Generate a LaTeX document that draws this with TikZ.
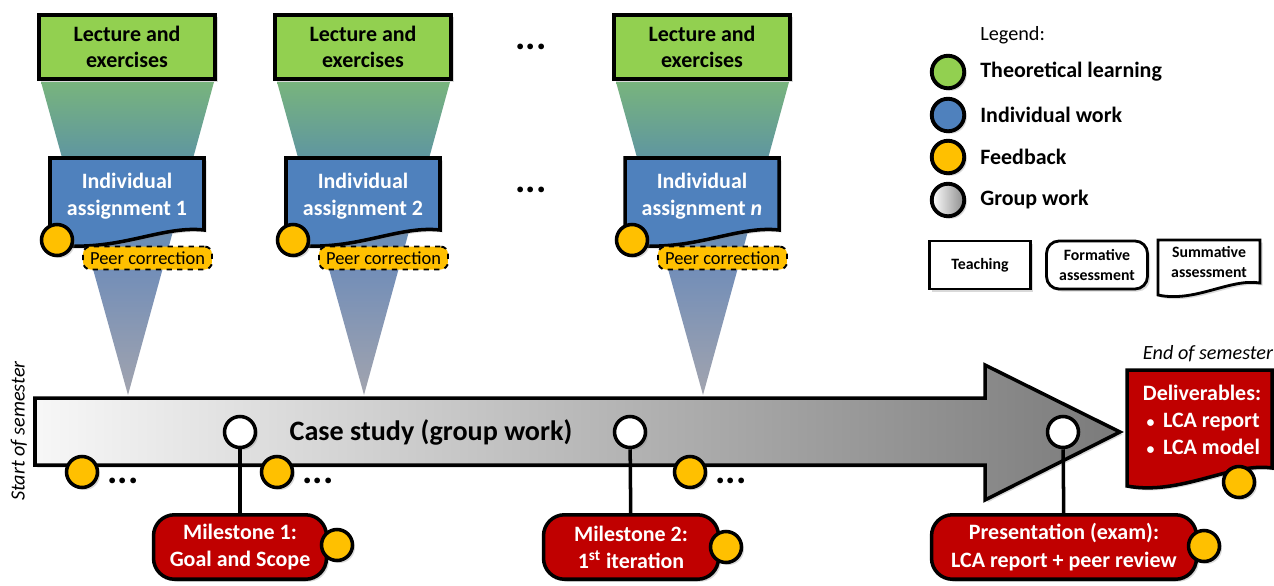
\documentclass[tikz,border=0pt]{standalone}
\usepackage{fontspec}
\setmainfont{Carlito}
\usepackage{tikz}
\usetikzlibrary{shadows}
\definecolor{theory}{RGB}{146,208,80}
\definecolor{indiv}{RGB}{79,129,189}
\definecolor{feed}{RGB}{255,192,0}
\definecolor{deliv}{RGB}{192,0,0}
\definecolor{funtop}{RGB}{120,180,125}
\definecolor{funmid}{RGB}{95,150,160}
\definecolor{funblue}{RGB}{110,140,185}
\definecolor{funbot}{RGB}{162,164,174}
\pgfdeclareverticalshading{funnel}{100bp}{color(0bp)=(funbot); color(25bp)=(funbot); color(47bp)=(funblue); color(63bp)=(funmid); color(75bp)=(funtop); color(100bp)=(funtop)}
\tikzstyle{shad}=[drop shadow={opacity=0.3,shadow xshift=0.5mm,shadow yshift=-0.5mm}]
\tikzstyle{lecture}=[rectangle,draw,line width=2pt,fill=theory,minimum width=3.53cm,minimum height=1.29cm,align=center,font=\bfseries\fontsize{12.5}{15}\selectfont,shad]
\tikzstyle{doc}=[draw,line width=2pt,shad]
\tikzstyle{doctext}=[align=center,text=white,font=\bfseries\fontsize{12.5}{15.5}\selectfont]
\tikzstyle{fbdot}=[circle,draw,line width=2pt,fill=feed,minimum size=0.62cm,inner sep=0pt,shad]
\tikzstyle{groupdot}=[circle,draw,line width=2pt,fill=white,minimum size=0.62cm,inner sep=0pt,shad]
\tikzstyle{peer}=[rectangle,rounded corners=0.15cm,draw,dashed,line width=1.1pt,fill=feed,minimum width=2.58cm,minimum height=0.46cm,inner sep=0pt,font=\fontsize{10.5}{12}\selectfont]
\tikzstyle{milestone}=[rectangle,rounded corners=0.42cm,draw,line width=2pt,fill=deliv,minimum height=1.29cm,align=center,text=white,font=\bfseries\fontsize{12.5}{15.5}\selectfont,shad]
\tikzstyle{link}=[draw,line width=2pt]
\tikzstyle{dots}=[font=\bfseries\fontsize{22}{22}\selectfont,inner sep=0pt]
\tikzstyle{legdot}=[circle,draw,line width=2.2pt,minimum size=0.65cm,inner sep=0pt,shad]
\tikzstyle{legtext}=[anchor=west,font=\bfseries\fontsize{12.5}{15}\selectfont,inner sep=0pt]
\tikzstyle{legbox}=[rectangle,draw,line width=1.6pt,fill=white,minimum width=2.02cm,minimum height=0.96cm,align=center,font=\bfseries\fontsize{9}{11}\selectfont,shad]
\tikzstyle{semester}=[font=\itshape\fontsize{11.5}{13}\selectfont,inner sep=0pt]

\begin{document}
\begin{tikzpicture}[x=0.02cm,y=-0.02cm]
    \useasboundingbox (0,0) rectangle (1274,585);

    % First the lecture columns, funnel under everything
    \foreach \dx/\num/\lab in {0/1/1, 236/2/2, 575/3/\textit{n}} {
        \shade[shading=funnel] (41+\dx,82) -- (214+\dx,82) -- (128+\dx,395) -- cycle;
        \node[lecture] (lec\num) at (127+\dx,47) {Lecture and\\exercises};
        \filldraw[doc,fill=indiv] (50+\dx,158) -- (204+\dx,158) -- (204+\dx,230) .. controls (160+\dx,225) and (115+\dx,254) .. (50+\dx,244) -- cycle;
        \node[doctext] (ia\num) at (127+\dx,196) {Individual\\assignment \lab};
        \node[fbdot] (fa\num) at (57+\dx,240) {};
        \node[peer] (peer\num) at (147.5+\dx,258) {Peer correction};
    }
    \node[dots] (dl) at (531,47) {...};
    \node[dots] (da) at (531,190) {...};

    % The case study arrow
    \shade[shad,draw,line width=2pt,left color=black!3,right color=black!52] (35,398) -- (985,398) -- (985,365) -- (1120,432) -- (985,500) -- (985,465) -- (35,465) -- cycle;
    \node[font=\bfseries\fontsize{16}{18}\selectfont] (case) at (431,432) {Case study (group work)};
    \node[semester,rotate=90] (start) at (19,431) {Start of semester};

    % Feedback along the case study
    \foreach \pos/\name in {{(82,472)/c1}, {(277,472)/c2}, {(690,472)/c3}}
        \node[fbdot] (\name) at \pos {};
    \foreach \pos/\name in {{(123,481)/e1}, {(318,481)/e2}, {(731,481)/e3}}
        \node[dots] (\name) at \pos {...};

    % Milestones
    \foreach \pos/\name in {{(240,432)/g1}, {(630,432)/g2}, {(1063,432)/g3}}
        \node[groupdot] (\name) at \pos {};
    \node[milestone,minimum width=3.46cm] (ms1) at (240,547) {Milestone 1:\\Goal and Scope};
    \node[milestone,minimum width=3.5cm] (ms2) at (631,547) {Milestone 2:\\1\textsuperscript{st} iteration};
    \node[milestone,minimum width=5.3cm] (ms3) at (1064,547) {Presentation (exam):\\LCA report + peer review};
    \foreach \source/\dest in {g1/ms1, g2/ms2, g3/ms3}
        \path[link] (\source) -- (\dest);
    \foreach \pos/\name in {{(337,545)/m1}, {(726,547)/m2}, {(1204,546)/m3}}
        \node[fbdot] (\name) at \pos {};

    % Deliverables at the end
    \node[semester] (end) at (1208,354) {End of semester};
    \filldraw[doc,fill=deliv] (1127,370) -- (1272,370) -- (1272,468) .. controls (1232,462) and (1180,496) .. (1127,486) -- cycle;
    \node[doctext,align=left] (deliv) at (1202,420) {Deliverables:\\\,{\fontsize{9}{9}\selectfont\textbullet}\ \,LCA report\\\,{\fontsize{9}{9}\selectfont\textbullet}\ \,LCA model};
    \node[fbdot] (fd) at (1239,482) {};

    % Legend
    \node[anchor=west,inner sep=0pt,font=\fontsize{11.5}{13}\selectfont] (leg) at (980,35) {Legend:};
    \node[legdot,fill=theory] (lt) at (948,72) {};
    \node[legdot,fill=indiv] (li) at (948,115) {};
    \node[legdot,fill=feed] (lf) at (948,157) {};
    \node[legdot,left color=white,right color=black!45] (lg) at (948,200) {};
    \foreach \pos/\name/\txt in {{(980,72)/tt/Theoretical learning}, {(980,115)/ti/Individual work}, {(980,157)/tf/Feedback}, {(980,200)/tg/Group work}}
        \node[legtext] (\name) at \pos {\txt};
    \node[legbox] (teach) at (980,265) {Teaching};
    \node[legbox,rounded corners=0.25cm] (form) at (1097,265) {Formative\\assessment};
    \filldraw[doc,line width=1.6pt,fill=white] (1158,240) -- (1260,240) -- (1260,283) .. controls (1230,278) and (1195,303) .. (1158,295) -- cycle;
    \node[align=center,font=\bfseries\fontsize{9}{11}\selectfont] (summ) at (1209,262) {Summative\\assessment};
\end{tikzpicture}
\end{document}
